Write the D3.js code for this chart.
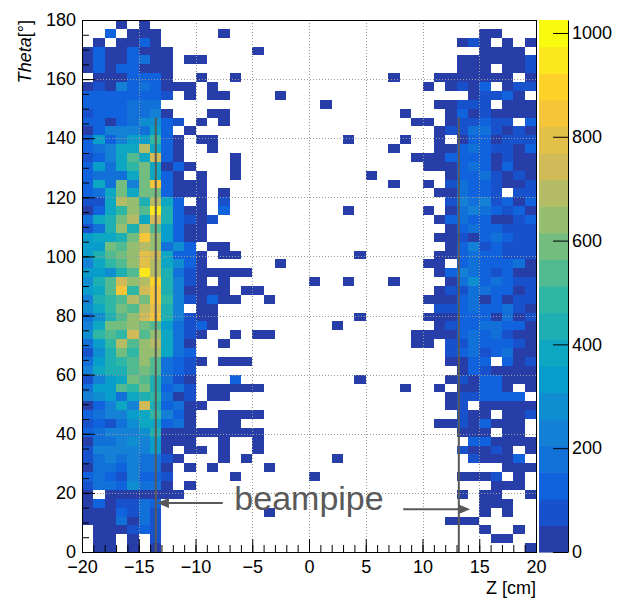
<!DOCTYPE html>
<html>
<head>
<meta charset="utf-8">
<script src="https://cdn.jsdelivr.net/npm/d3@7"></script>
<style>
body { margin: 0; background: #fff; }
svg text { font-family: "Liberation Sans", Arial, Helvetica, sans-serif; }
</style>
</head>
<body>
<div id="chart"></div>
<script>

// Histogram binning
var zRange = [-20, 20], nZ = 40;
var thetaRange = [0, 180], nTheta = 60;
var zMax = 1025, nLevels = 20;

// Cell contents read as colour level (0-9, a-j = 10..19), "." = empty bin
// one string per theta bin, top row (177-180 deg) first, Z from -20 to 20
var rows = [
	"...0.0.... .......... .......... ..........",
	"..2.000... ..0....... .......... .....00...",
	".0.0020... .......... .......... ...010.0.0",
	"02002000.. .....0.... .......... .....0000.",
	"02002300.0 0......... .......... ...0000001",
	"02022000.. .......... .......... ...000.001",
	".0002220.. 0..0...... .......0.. .0000000.0",
	"0104232000 .0........ .......... 0.0102.011",
	"22222221.0 .00....0.. .......... ....01120.",
	"2222333... .......... .0........ .00111.000",
	"12223340.. .00....... ........0. ..02010000",
	"220235521. 0.0....... .........0 0.011211.2",
	"02444362.0 .......... .......... .011331010",
	"262466920. 00........ ...0....0. .0.0220111",
	"23477d720. .0........ .......0.. .002321102",
	"1247a7e20. ...0...... .........0 0022220100",
	"26379b7020 ...0...... .......... 0002320200",
	"23337b720. 0..0...... .....0.... ..02231010",
	"273b4bg200 0......... .......0.. 0.13221001",
	"237b7bb200 0.0....... .......... .003221.11",
	"117dc8d72. 0.1....... .......... ..14341202",
	"0279cai820 0.2....... ...0...... 0.03432120",
	"378bd7e821 01........ .......... .023220012",
	"138c8da620 0......... .......... ..02322111",
	"6778bgc620 0......... .......... .001023211",
	"66bacdc352 .00....... .......... ..02412111",
	"68abcfe722 0.00...... ....0..... .002322111",
	"479acfd752 0......0.. .......... 00.2322230",
	"6658aid831 00000..... .......... .024321200",
	"58aecdh841 0.0....... 0..0...0.. ..03523211",
	"67ag9eg840 000.00.... .......... .011332201",
	"489adbg941 0200..0... .......... 0002302011",
	"579badf84. 00........ .......... .112322310",
	"358aceg841 00........ ....0..... 0002220301",
	"47bbcba631 20........ ..0....... .012233220",
	"59a9eac731 0..0.00... .........0 0002323100",
	"369dacd730 ..0....... .........0 0.11322210",
	"158b9cc732 .......... .......... ..12312300",
	"3689aca321 0.000..... .......... ..0022.201",
	"4788aba321 .......... .......... ...0210000",
	"1467ba8310 ...2...... ....0..... ..01022000",
	"366a9b8231 .00000.... ........0. .0.00220.0",
	"4563789301 .00....... .......... ..0112222.",
	"02474e8230 0......... .......... ..01.00000",
	"2344679420 ..0000.... .......... ...100.001",
	"1213577230 ..00...... .......... .00102000.",
	"2344458000 000000.... .......... ...000.00.",
	"0334546000 ..0..0.... .......... ....220000",
	"14444460.0 0.0..0.... .......... ...10010.0",
	"134343310. ..0.0..... ..0....... ....10002.",
	"03324330.0 .0....0... .......... .......000",
	"23214221.. ...0...... 0......... ...0001.0.",
	"13325330.0 .......... .......... ......000.",
	"0.0000000. .......... .......... ...0.00..0",
	"0201132... .......... .......... .....000..",
	"0002131... ......0... .......... .....0.0..",
	"0003031... .......... .......... ..000.....",
	".000121... .......... .......... .....0..0.",
	".00.0.1... .......... .......... ......00..",
	".00.0.0... .......... .......... .........0"
];

// Axis ticks
var zTicks = [-20, -15, -10, -5, 0, 5, 10, 15, 20];
var thetaTicks = [0, 20, 40, 60, 80, 100, 120, 140, 160, 180];
var countTicks = [0, 200, 400, 600, 800, 1000];

// Beampipe annotation (Z in cm, theta in deg)
var beampipeZ = [-13.5, 13.2];
var beampipeTop = 147;
var arrows = [
	{from: -7.6, to: -13.4, theta: 16.6},
	{from: 8.3, to: 14.2, theta: 14.5}
];
var beampipeLabel = {text: "beampipe", z: 0, theta: 14.2};

// ROOT kBird palette stops
var birdStops = [0.0, 0.125, 0.25, 0.375, 0.5, 0.625, 0.75, 0.875, 1.0];
var birdR = [0.2082, 0.0592, 0.0780, 0.0232, 0.1802, 0.5301, 0.8186, 0.9956, 0.9764];
var birdG = [0.1664, 0.3599, 0.5041, 0.6419, 0.7178, 0.7492, 0.7328, 0.7862, 0.9832];
var birdB = [0.5293, 0.8684, 0.8385, 0.7914, 0.6425, 0.4662, 0.3499, 0.1968, 0.0539];

var bird = d3.scaleLinear()
	.domain(birdStops)
	.range(birdStops.map(function(s, i) { return d3.rgb(birdR[i] * 255, birdG[i] * 255, birdB[i] * 255); }))
	.interpolate(d3.interpolateRgb);

function levelColor(k) {
	k = Math.max(0, Math.min(nLevels - 1, k));
	var idx = Math.floor((k + 0.99) * 255 / nLevels);
	return bird(Math.min(1, idx / 254));
}

var W = 620, H = 600;
var padL = 82, padR = 536, padT = 20, padB = 552;
var barLeft = 539, barRight = 568;

var x = d3.scaleLinear().domain(zRange).range([padL, padR]);
var y = d3.scaleLinear().domain(thetaRange).range([padB, padT]);
var zc = d3.scaleLinear().domain([0, zMax]).range([padB, padT]);

var svg = d3.select("#chart").append("svg")
	.attr("width", W)
	.attr("height", H)
	.style("display", "block");

// Build cell list from the row strings
var dz = (zRange[1] - zRange[0]) / nZ,
	dt = (thetaRange[1] - thetaRange[0]) / nTheta;
var cells = [];
rows.forEach(function(s, r) {
	var row = s.replace(/ /g, "");
	var tbin = nTheta - 1 - r;
	for (var j = 0; j < nZ; j++) {
		var c = row.charAt(j);
		if (c === "." || c === "") continue;
		var lev = parseInt(c, 36);
		cells.push({zbin: j, tbin: tbin, count: (lev + 0.5) * zMax / nLevels});
	}
});

// Show cells
svg.append("g").attr("class", "cells")
	.selectAll("rect")
	.data(cells)
	.enter().append("rect")
	.attr("x", function(d) { return Math.round(x(zRange[0] + d.zbin * dz)); })
	.attr("y", function(d) { return Math.round(y(thetaRange[0] + (d.tbin + 1) * dt)); })
	.attr("width", function(d) { return Math.round(x(zRange[0] + (d.zbin + 1) * dz)) - Math.round(x(zRange[0] + d.zbin * dz)); })
	.attr("height", function(d) { return Math.round(y(thetaRange[0] + d.tbin * dt)) - Math.round(y(thetaRange[0] + (d.tbin + 1) * dt)); })
	.attr("fill", function(d) { return levelColor(Math.floor(d.count / zMax * nLevels)); })
	.attr("shape-rendering", "crispEdges");

// Dotted grid
var grid = svg.append("g").attr("class", "grid")
	.attr("stroke", "#9a9a9a")
	.attr("stroke-width", 1)
	.attr("stroke-dasharray", "1,2");
grid.selectAll("line.gx")
	.data(zTicks.slice(1, -1))
	.enter().append("line")
	.attr("x1", function(d) { return Math.round(x(d)) + 0.5; })
	.attr("x2", function(d) { return Math.round(x(d)) + 0.5; })
	.attr("y1", padT).attr("y2", padB);
grid.selectAll("line.gy")
	.data(thetaTicks.slice(1, -1))
	.enter().append("line")
	.attr("y1", function(d) { return Math.round(y(d)) + 0.5; })
	.attr("y2", function(d) { return Math.round(y(d)) + 0.5; })
	.attr("x1", padL).attr("x2", padR);

// Axes, ticks inside the frame like ROOT
var minorZ = d3.range(zRange[0], zRange[1] + 0.5, 1);
var minorT = d3.range(thetaRange[0], thetaRange[1] + 0.5, 5);

svg.append("g")
	.attr("transform", "translate(0," + padB + ")")
	.call(d3.axisBottom(x).tickValues(minorZ).tickSizeInner(-7).tickSizeOuter(0).tickFormat(""))
	.call(function(g) { g.select(".domain").remove(); });

var xAxis = svg.append("g")
	.attr("class", "axis axis--x")
	.attr("transform", "translate(0," + padB + ")")
	.call(d3.axisBottom(x).tickValues(zTicks).tickSizeInner(-13).tickSizeOuter(0).tickPadding(8));

svg.append("g")
	.attr("transform", "translate(" + padL + ",0)")
	.call(d3.axisLeft(y).tickValues(minorT).tickSizeInner(-7).tickSizeOuter(0).tickFormat(""))
	.call(function(g) { g.select(".domain").remove(); });

var yAxis = svg.append("g")
	.attr("class", "axis axis--y")
	.attr("transform", "translate(" + padL + ",0)")
	.call(d3.axisLeft(y).tickValues(thetaTicks).tickSizeInner(-13).tickSizeOuter(0).tickPadding(6));

svg.selectAll(".axis text")
	.style("font-size", "18px")
	.attr("fill", "#000");

// Frame
svg.append("rect")
	.attr("x", padL + 0.5).attr("y", padT + 0.5)
	.attr("width", padR - padL).attr("height", padB - padT)
	.attr("fill", "none")
	.attr("stroke", "#000")
	.attr("stroke-width", 1);

// Axis titles
svg.append("text")
	.attr("x", padR)
	.attr("y", 594)
	.attr("text-anchor", "end")
	.style("font-size", "18px")
	.text("Z [cm]");

var yTitle = svg.append("text")
	.attr("transform", "translate(31," + padT + ") rotate(-90)")
	.attr("text-anchor", "end")
	.style("font-size", "18px");
yTitle.append("tspan").style("font-style", "italic").text("Theta");
yTitle.append("tspan").text("[°]");

// Colour bar: one band per level
var levels = d3.range(nLevels);
svg.append("g").attr("class", "palette")
	.selectAll("rect")
	.data(levels)
	.enter().append("rect")
	.attr("x", barLeft)
	.attr("width", barRight - barLeft)
	.attr("y", function(k) { return zc((k + 1) * zMax / nLevels); })
	.attr("height", function(k) { return zc(k * zMax / nLevels) - zc((k + 1) * zMax / nLevels) + 0.6; })
	.attr("fill", function(k) { return levelColor(k); });

var zAxis = svg.append("g")
	.attr("class", "axis axis--z")
	.attr("transform", "translate(" + barRight + ",0)")
	.call(d3.axisRight(zc).tickValues(countTicks).tickSizeInner(-15).tickSizeOuter(0).tickPadding(4).tickFormat(d3.format("d")));
zAxis.selectAll("text").style("font-size", "18px").attr("fill", "#000");

// Beampipe lines
svg.append("g").attr("class", "beampipe")
	.selectAll("line")
	.data(beampipeZ)
	.enter().append("line")
	.attr("x1", function(d) { return x(d); })
	.attr("x2", function(d) { return x(d); })
	.attr("y1", y(beampipeTop))
	.attr("y2", y(thetaRange[0]))
	.attr("stroke", "#595959")
	.attr("stroke-width", 2);

// Arrows
var headLen = 12, headHalf = 5;
var arrowG = svg.append("g").attr("class", "arrows");
arrows.forEach(function(a) {
	var x0 = x(a.from), x1 = x(a.to), yy = y(a.theta);
	var dir = x1 > x0 ? 1 : -1;
	arrowG.append("line")
		.attr("x1", x0).attr("x2", x1 - dir * headLen)
		.attr("y1", yy).attr("y2", yy)
		.attr("stroke", "#595959")
		.attr("stroke-width", 2);
	arrowG.append("path")
		.attr("d", "M" + x1 + "," + yy +
			"L" + (x1 - dir * headLen) + "," + (yy - headHalf) +
			"L" + (x1 - dir * headLen) + "," + (yy + headHalf) + "Z")
		.attr("fill", "#595959");
});

svg.append("text")
	.attr("x", x(beampipeLabel.z))
	.attr("y", y(beampipeLabel.theta))
	.attr("text-anchor", "middle")
	.attr("fill", "#595959")
	.style("font-size", "34px")
	.text(beampipeLabel.text);

</script>
</body>
</html>
